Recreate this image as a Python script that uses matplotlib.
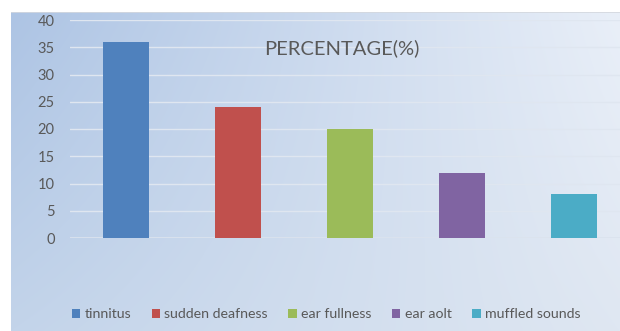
import numpy as np
import matplotlib.pyplot as plt
from matplotlib.patches import Patch

# Donnees du graphique
categories = ['tinnitus', 'sudden deafness', 'ear fullness', 'ear aolt', 'muffled sounds']
pourcentages = [36, 24, 20, 12, 8]
couleurs = ['#4f81bd', '#c0504d', '#9bbb59', '#8064a2', '#4bacc6']
graduations = [0, 5, 10, 15, 20, 25, 30, 35, 40]

plt.rcParams['font.family'] = ['Lato', 'DejaVu Sans']

W, H = 620, 331
fig = plt.figure(figsize=(W / 100, H / 100), dpi=100)
fig.patch.set_facecolor('white')

# fond degrade (bleu a gauche, clair a droite)
fond = fig.add_axes([11 / W, 0, 1 - 11 / W, 1 - 12 / H], zorder=0)
coins = np.array([[[0xad, 0xc4, 0xe4], [0xe9, 0xef, 0xf8]],
                  [[0xc3, 0xd4, 0xea], [0xdf, 0xe7, 0xf2]]]) / 255.0
u = np.linspace(0, 1, 300)[None, :, None]
v = np.linspace(0, 1, 160)[:, None, None]
haut = coins[0, 0] * (1 - u) + coins[0, 1] * u
bas = coins[1, 0] * (1 - u) + coins[1, 1] * u
degrade = haut * (1 - v) + bas * v
fond.imshow(degrade, aspect='auto', extent=[0, 1, 0, 1], interpolation='bilinear')
fond.axhline(1, color='#d4d8de', lw=1.2)
fond.set_xlim(0, 1)
fond.set_ylim(0, 1)
fond.axis('off')

ax = fig.add_axes([70 / W, 93 / H, 560 / W, 218 / H], zorder=1)
ax.patch.set_alpha(0)
x = np.arange(len(categories))
ax.bar(x, pourcentages, width=0.41, color=couleurs, zorder=3)
ax.set_xlim(-0.5, 4.5)
ax.set_ylim(0, 40)
ax.set_yticks(graduations)
ax.yaxis.grid(True, color='#dfe6f0', lw=1)
ax.axhline(0, color='#dbe3ee', lw=1.2, zorder=2)
ax.set_xticks([])
ax.tick_params(axis='y', length=0, pad=11, labelsize=10.5, labelcolor='#595959')
for s in ax.spines.values():
    s.set_visible(False)

ax.text(0.486, 0.87, 'PERCENTAGE(%)', transform=ax.transAxes, ha='center', va='center',
        fontsize=14.5, color='#595959')

poignees = [Patch(facecolor=c, edgecolor='none') for c in couleurs]
fig.legend(poignees, categories, loc='center', bbox_to_anchor=(326 / W, 1 - 314 / H),
           ncol=5, frameon=False, fontsize=10.2, labelcolor='#595959',
           handlelength=0.6, handleheight=0.6, handletextpad=0.3, columnspacing=1.45)

fig.savefig('out.png', dpi=100)
